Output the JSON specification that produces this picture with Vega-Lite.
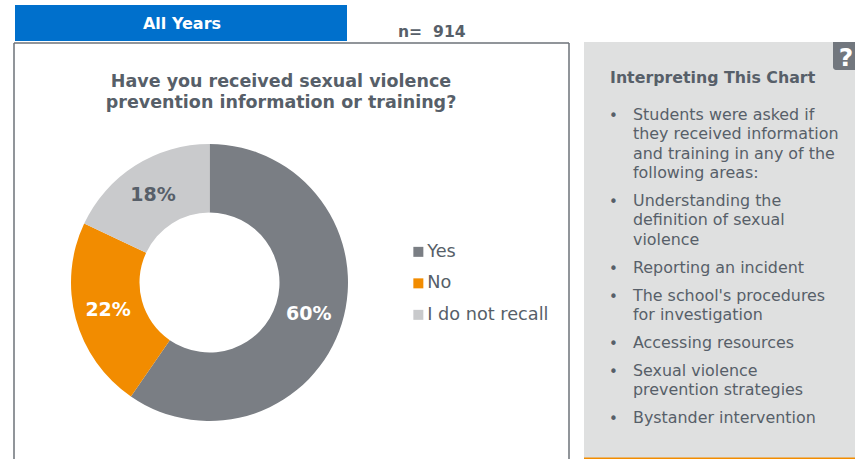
{"$schema":"https://vega.github.io/schema/vega-lite/v6.json","width":855,"height":459,"padding":0,"autosize":{"type":"fit","contains":"padding"},"background":"white","view":{"stroke":null},"config":{"font":"DejaVu Sans"},
"datasets":{"answers":[{"answer":"Yes","percent":59.6,"rank":1,"label":"60%"},{"answer":"No","percent":22.4,"rank":2,"label":"22%"},{"answer":"I do not recall","percent":18,"rank":3,"label":"18%"}]},
"layer":[
{"data":{"values":[{}]},"mark":{"type":"rect","fill":"#0070CC"},"encoding":{"x":{"value":15},"x2":{"value":347},"y":{"value":5},"y2":{"value":41}}},
{"data":{"values":[{}]},"mark":{"type":"text","text":"All Years","fontWeight":"bold","fontSize":16,"fill":"white","align":"center","baseline":"middle"},"encoding":{"x":{"value":182},"y":{"value":23.5}}},
{"data":{"values":[{}]},"mark":{"type":"text","text":"n=\u00a0\u00a0914","fontWeight":"bold","fontSize":15.6,"fill":"#575F69","align":"left","baseline":"middle"},"encoding":{"x":{"value":398},"y":{"value":32}}},
{"data":{"values":[{}]},"mark":{"type":"rule","stroke":"#6D7278","strokeWidth":1.5},"encoding":{"x":{"value":14},"x2":{"value":569},"y":{"value":43}}},
{"data":{"values":[{}]},"mark":{"type":"rule","stroke":"#6D7278","strokeWidth":1.5},"encoding":{"x":{"value":14},"y":{"value":43},"y2":{"value":459}}},
{"data":{"values":[{}]},"mark":{"type":"rule","stroke":"#6D7278","strokeWidth":1.5},"encoding":{"x":{"value":569},"y":{"value":43},"y2":{"value":459}}},
{"data":{"values":[{}]},"mark":{"type":"text","text":["Have you received sexual violence","prevention information or training?"],"lineHeight":21,"fontWeight":"bold","fontSize":17.5,"fill":"#575F69","align":"center","baseline":"middle"},"encoding":{"x":{"value":281},"y":{"value":82}}},
{"data":{"name":"answers"},"mark":{"type":"arc","outerRadius":138.5,"innerRadius":70},"encoding":{"x":{"value":209.5},"y":{"value":282.5},"theta":{"field":"percent","type":"quantitative","stack":true,"scale":{"domain":[0,100]}},"order":{"field":"rank","type":"ordinal"},"color":{"field":"answer","type":"nominal","sort":["Yes","No","I do not recall"],"scale":{"domain":["Yes","No","I do not recall"],"range":["#7A7E84","#F28C00","#C9CACC"]},"legend":{"title":null,"orient":"none","legendX":409.5,"legendY":243,"symbolType":"square","symbolSize":100,"symbolStrokeWidth":0,"labelFontSize":17.7,"labelColor":"#575F69","labelOffset":0,"rowPadding":12.5,"labelFont":"DejaVu Sans"}}}},
{"data":{"name":"answers"},"mark":{"type":"text","radius":104.5,"fontWeight":"bold","fontSize":19,"align":"center","baseline":"middle"},"encoding":{"x":{"value":209},"y":{"value":283},"theta":{"field":"percent","type":"quantitative","stack":true,"scale":{"domain":[0,100]}},"order":{"field":"rank","type":"ordinal"},"text":{"field":"label","type":"nominal"},"color":{"condition":{"test":"datum.answer === 'I do not recall'","value":"#575F69"},"value":"white"}}},
{"data":{"values":[{}]},"mark":{"type":"rect","fill":"#DFE0E0"},"encoding":{"x":{"value":584},"x2":{"value":855},"y":{"value":42},"y2":{"value":458}}},
{"data":{"values":[{}]},"mark":{"type":"rule","stroke":"#F28C00","strokeWidth":1.5},"encoding":{"x":{"value":584},"x2":{"value":855},"y":{"value":458.3}}},
{"data":{"values":[{}]},"mark":{"type":"rect","fill":"#72777E","cornerRadiusBottomLeft":3},"encoding":{"x":{"value":833},"x2":{"value":855},"y":{"value":42},"y2":{"value":70}}},
{"data":{"values":[{}]},"mark":{"type":"text","text":"?","fontWeight":"bold","fontSize":25,"fill":"white","align":"center","baseline":"middle"},"encoding":{"x":{"value":846},"y":{"value":58}}},
{"data":{"values":[{}]},"mark":{"type":"text","text":"Interpreting This Chart","fontWeight":"bold","fontSize":15.8,"fill":"#575F69","align":"left","baseline":"middle"},"encoding":{"x":{"value":610},"y":{"value":78}}},
{"data":{"values":[{"t":["Students were asked if","they received information","and training in any of the","following areas:"]}]},"mark":{"type":"text","lineHeight":19.3,"fontSize":15.9,"fill":"#575F69","align":"left","baseline":"top"},"encoding":{"x":{"value":633},"y":{"value":107},"text":{"field":"t"}}},
{"data":{"values":[{"t":["Understanding the","definition of sexual","violence"]}]},"mark":{"type":"text","lineHeight":19.3,"fontSize":15.9,"fill":"#575F69","align":"left","baseline":"top"},"encoding":{"x":{"value":633},"y":{"value":193},"text":{"field":"t"}}},
{"data":{"values":[{"t":"Reporting an incident"}]},"mark":{"type":"text","lineHeight":19.3,"fontSize":15.9,"fill":"#575F69","align":"left","baseline":"top"},"encoding":{"x":{"value":633},"y":{"value":260},"text":{"field":"t"}}},
{"data":{"values":[{"t":["The school's procedures","for investigation"]}]},"mark":{"type":"text","lineHeight":19.3,"fontSize":15.9,"fill":"#575F69","align":"left","baseline":"top"},"encoding":{"x":{"value":633},"y":{"value":288},"text":{"field":"t"}}},
{"data":{"values":[{"t":"Accessing resources"}]},"mark":{"type":"text","lineHeight":19.3,"fontSize":15.9,"fill":"#575F69","align":"left","baseline":"top"},"encoding":{"x":{"value":633},"y":{"value":335},"text":{"field":"t"}}},
{"data":{"values":[{"t":["Sexual violence","prevention strategies"]}]},"mark":{"type":"text","lineHeight":19.3,"fontSize":15.9,"fill":"#575F69","align":"left","baseline":"top"},"encoding":{"x":{"value":633},"y":{"value":363},"text":{"field":"t"}}},
{"data":{"values":[{"t":"Bystander intervention"}]},"mark":{"type":"text","lineHeight":19.3,"fontSize":15.9,"fill":"#575F69","align":"left","baseline":"top"},"encoding":{"x":{"value":633},"y":{"value":410},"text":{"field":"t"}}},
{"data":{"values":[{"t":["•"]}]},"mark":{"type":"text","fontSize":15,"fill":"#575F69","align":"left","baseline":"top"},"encoding":{"x":{"value":609},"y":{"value":109},"text":{"field":"t"}}},
{"data":{"values":[{"t":["•"]}]},"mark":{"type":"text","fontSize":15,"fill":"#575F69","align":"left","baseline":"top"},"encoding":{"x":{"value":609},"y":{"value":195},"text":{"field":"t"}}},
{"data":{"values":[{"t":["•"]}]},"mark":{"type":"text","fontSize":15,"fill":"#575F69","align":"left","baseline":"top"},"encoding":{"x":{"value":609},"y":{"value":262},"text":{"field":"t"}}},
{"data":{"values":[{"t":["•"]}]},"mark":{"type":"text","fontSize":15,"fill":"#575F69","align":"left","baseline":"top"},"encoding":{"x":{"value":609},"y":{"value":290},"text":{"field":"t"}}},
{"data":{"values":[{"t":["•"]}]},"mark":{"type":"text","fontSize":15,"fill":"#575F69","align":"left","baseline":"top"},"encoding":{"x":{"value":609},"y":{"value":337},"text":{"field":"t"}}},
{"data":{"values":[{"t":["•"]}]},"mark":{"type":"text","fontSize":15,"fill":"#575F69","align":"left","baseline":"top"},"encoding":{"x":{"value":609},"y":{"value":365},"text":{"field":"t"}}},
{"data":{"values":[{"t":["•"]}]},"mark":{"type":"text","fontSize":15,"fill":"#575F69","align":"left","baseline":"top"},"encoding":{"x":{"value":609},"y":{"value":412},"text":{"field":"t"}}}
]}
